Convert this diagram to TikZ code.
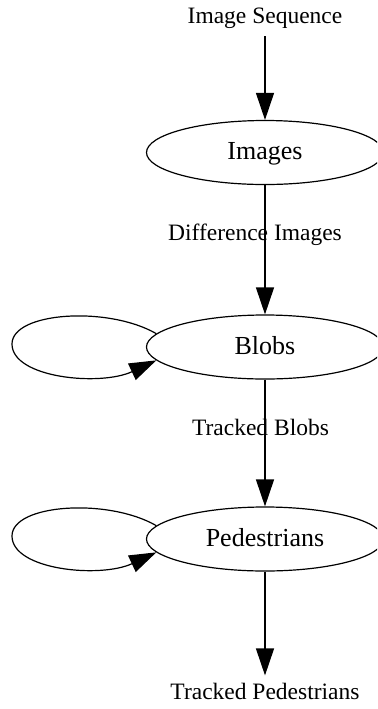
\documentclass[tikz,border=0pt]{standalone}
\usepackage{fontspec}
\setmainfont{Liberation Serif}
\usetikzlibrary{arrows.meta, positioning, shapes.geometric}
\tikzset{>={Triangle[width=9pt,length=13.5pt]}}

\begin{document}
\begin{tikzpicture}[on grid, line width=0.6pt,
	stage/.style = {ellipse, draw, inner sep=0pt, minimum width=118.5pt, minimum height=32pt,
		font=\fontsize{13}{15}\selectfont, text height=9.5pt, text depth=2.5pt},
	io/.style = {inner sep=3.5pt, font=\fontsize{11.75}{14}\selectfont, text height=8pt, text depth=2.5pt},
	loopup/.style = {out=150, in=90, out distance=28pt, in distance=16pt},
	loopdown/.style = {out=270, in=205, out distance=17pt, in distance=31pt}]
	\useasboundingbox (0,0) rectangle (188.5pt,-354.5pt);
	\clip (0,0) rectangle (188.5pt,-354.5pt);
	\node (seq) [io] at (132.5pt,-9pt) {Image Sequence};
	\node (images) [stage, below = 67.25pt of seq] {Images};
	\node (blobs) [stage, below = 97.25pt of images] {Blobs};
	\node (peds) [stage, below = 96pt of blobs] {Pedestrians};
	\node (tracked) [io, below = 77.25pt of peds] {Tracked Pedestrians};
	\coordinate (blobs-loop) at ([xshift=-126.5pt, yshift=1.5pt]blobs.center);
	\coordinate (peds-loop) at ([xshift=-126.5pt, yshift=1.5pt]peds.center);
	\path[->]
	(seq) edge (images)
	(images) edge node [io, pos=0.383, xshift=-5pt] {Difference Images} (blobs)
	(blobs) edge node [io, pos=0.4, xshift=-2.25pt] {Tracked Blobs} (peds)
	(peds) edge (tracked);
	% self loops
	\draw[->] (blobs.173) to[loopup] (blobs-loop) to[loopdown] (blobs.187);
	\draw[->] (peds.173) to[loopup] (peds-loop) to[loopdown] (peds.187);
\end{tikzpicture}
\end{document}
